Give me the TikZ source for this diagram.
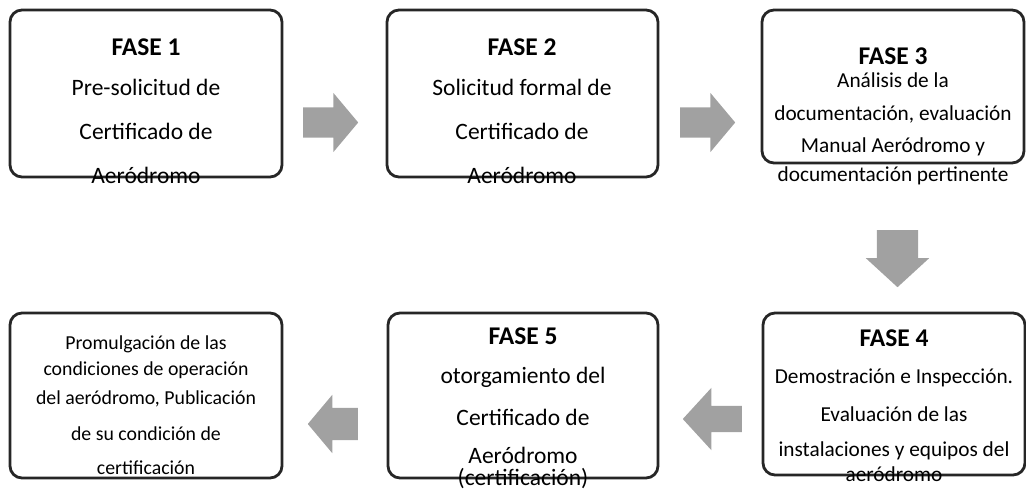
\documentclass[tikz,border=0pt]{standalone}
\usepackage{fontspec}
\setmainfont{Carlito}
\usetikzlibrary{shapes.arrows}
\tikzset{
  box/.style={draw=black!85, line width=2.8pt, rounded corners=12pt, fill=white},
  txt/.style={inner sep=0pt, anchor=base, font=\fontsize{23.5}{25}\selectfont},
  mtxt/.style={inner sep=0pt, anchor=base, font=\fontsize{21.3}{23}\selectfont},
  stxt/.style={inner sep=0pt, anchor=base, font=\fontsize{19.8}{21}\selectfont},
  hd/.style={inner sep=0pt, anchor=base, font=\fontsize{25.5}{27}\selectfont\bfseries},
  blk/.style={single arrow, fill=black!37, draw=none, inner xsep=0pt, anchor=tail, single arrow tip angle=100}
}
\begin{document}
\begin{tikzpicture}[x=1pt,y=-1pt]
\useasboundingbox (0,0) rectangle (1026,492);
% boxes
\node[box, minimum width=272pt, minimum height=167pt] (b1) at (146,93.5) {};
\node[box, minimum width=271pt, minimum height=167pt] (b2) at (522.5,93.5) {};
\node[box, minimum width=262pt, minimum height=153pt] (b3) at (893,86.5) {};
\node[box, minimum width=262pt, minimum height=162pt] (b4) at (894,394) {};
\node[box, minimum width=270pt, minimum height=165pt] (b5) at (523,395.5) {};
\node[box, minimum width=272pt, minimum height=165pt] (b6) at (146,395.5) {};
% box 1 text
\node[hd] (t1a) at (146,56) {FASE 1};
\node[txt] (t1b) at (146,96) {Pre-solicitud de};
\node[txt] (t1c) at (146,140) {Certificado de};
\node[txt] (t1d) at (146,184) {Aeródromo};
% box 2 text
\node[hd] (t2a) at (522,56) {FASE 2};
\node[txt] (t2b) at (522,96) {Solicitud formal de};
\node[txt] (t2c) at (522,140) {Certificado de};
\node[txt] (t2d) at (522,184) {Aeródromo};
% box 3 text
\node[hd] (t3a) at (893,65) {FASE 3};
\node[mtxt] (t3b) at (893,88) {Análisis de la};
\node[mtxt] (t3c) at (893,121) {documentación, evaluación};
\node[mtxt] (t3d) at (893,153) {Manual Aeródromo y};
\node[mtxt] (t3e) at (893,182) {documentación pertinente};
% box 4 text
\node[hd] (t4a) at (894,346) {FASE 4};
\node[mtxt] (t4b) at (894,383) {Demostración e Inspección.};
\node[mtxt] (t4c) at (894,421) {Evaluación de las};
\node[mtxt] (t4d) at (894,456) {instalaciones y equipos del};
\node[mtxt] (t4e) at (894,481) {aeródromo};
% box 5 text
\node[hd] (t5a) at (523,344) {FASE 5};
\node[txt] (t5b) at (523,383) {otorgamiento del};
\node[txt] (t5c) at (523,425) {Certificado de};
\node[txt] (t5d) at (523,463) {Aeródromo};
\node[txt] (t5e) at (523,485) {(certificación)};
% box 6 text
\node[stxt] (t6a) at (146,349) {Promulgación de las};
\node[stxt] (t6b) at (146,375) {condiciones de operación};
\node[stxt] (t6c) at (146,404) {del aeródromo, Publicación};
\node[stxt] (t6d) at (146,440) {de su condición de};
\node[stxt] (t6e) at (146,474) {certificación};
% block arrows
\node[blk, minimum height=55pt, inner ysep=15pt, single arrow head extend=14.5pt] (a1) at (303,122.5) {};
\node[blk, minimum height=55pt, inner ysep=15pt, single arrow head extend=14.5pt] (a2) at (680,122.5) {};
\node[blk, rotate=-90, minimum height=57pt, inner ysep=20.5pt, single arrow head extend=11pt, single arrow tip angle=95] (a3) at (897.5,230) {};
\node[blk, rotate=180, minimum height=59pt, inner ysep=13pt, single arrow head extend=18pt, single arrow tip angle=95] (a4) at (742,419) {};
\node[blk, rotate=180, minimum height=50pt, inner ysep=16pt, single arrow head extend=13pt] (a5) at (358,424) {};
\end{tikzpicture}
\end{document}
